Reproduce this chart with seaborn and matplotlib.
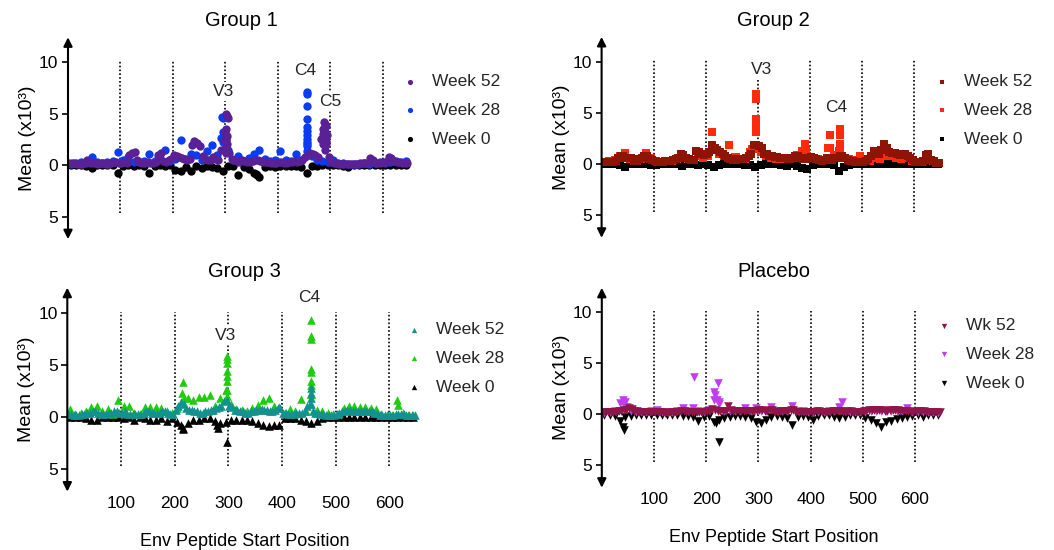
import matplotlib
matplotlib.use("Agg")
import matplotlib.pyplot as plt
import seaborn as sns
import pandas as pd

# ---------------- data ----------------
POS = list(range(5, 650, 10))       # coarse grid of peptide start positions (65)
POS_FINE = list(range(2, 650, 5))   # fine grid of peptide start positions (130)
VLINES = [100, 200, 300, 400, 500, 600]
XTICKS = [100, 200, 300, 400, 500, 600]
YTICKS = [-5, 0, 5, 10]
YTICKLABELS = ["5", "0", "5", "10"]

# Group 1 (circles)
G1_W52 = [0.2,0.2,0.15,0.1,0.1,0.1,0.3,0.5,0.2,0.2,0.15,0.1,0.2,0.15,0.1,0.1,0.2,0.3,0.3,0.2,
          0.2,0.3,0.2,1.0,1.2,1.3,0.5,0.3,0.2,0.2,0.3,0.2,0.2,0.3,1.0,1.2,0.4,0.3,0.5,0.6,
          1.0,0.9,0.8,0.7,0.6,0.5,0.6,1.9,2.2,2.1,1.8,0.9,0.6,0.5,0.5,0.8,0.6,0.5,1.5,2.4,
          2.5,1.2,0.6,0.5,0.4,0.3,0.5,0.4,0.3,0.3,0.4,0.5,0.5,0.4,0.3,0.3,0.3,0.2,0.2,0.2,
          0.3,0.3,0.2,0.2,0.3,0.3,0.4,0.3,0.4,0.5,0.8,1.0,1.2,1.1,1.0,0.8,2.5,3.0,2.0,0.8,
          0.3,0.2,0.2,0.1,0.1,0.1,0.1,0.1,0.1,0.1,0.1,0.15,0.15,0.2,0.2,0.7,0.5,0.2,0.2,0.2,
          0.3,0.3,0.8,0.7,0.4,0.3,0.3,0.2,0.2,0.2]
G1_W52_PX = [301,303,305,302,300,304,301,303,300,302,240,
             488,490,492,486,490,494,488,492,486,490]
G1_W52_PY = [5.0,4.8,4.6,3.5,3.2,2.8,2.4,2.0,1.6,1.2,2.3,
             4.2,4.0,3.8,3.5,3.2,2.9,2.6,2.3,2.0,1.5]
G1_W28 = [0.1,0.2,0.3,0.2,0.8,0.3,0.2,0.3,0.4,1.3,
          0.5,0.8,0.3,0.3,0.4,1.1,0.4,0.6,1.5,0.4,
          0.6,2.4,0.6,1.1,1.0,0.5,1.4,1.9,1.0,3.2,
          1.5,0.5,0.9,0.4,0.7,1.1,1.5,0.6,0.4,0.5,
          1.4,0.5,0.4,1.1,0.5,2.0,0.9,0.5,0.4,0.3,
          0.5,0.2,0.2,0.1,0.1,0.1,0.2,0.1,0.2,0.3,
          0.2,0.3,0.4,0.3,0.4]
G1_W28_PX = [456,456,456,456,456,456,456,456,456,456,456,294,296,292,296]
G1_W28_PY = [7.1,6.9,5.7,4.5,3.7,3.3,2.9,2.5,2.2,1.8,1.4,4.7,4.6,2.6,2.2]
G1_W0 = [0.03,0.03,0.03,0.1,0.3,0.03,0.03,0.03,0.03,0.8,
         0.1,0.03,0.1,0.03,0.1,0.75,0.1,0.03,0.1,0.03,
         0.5,0.6,0.2,0.6,0.1,0.3,0.1,0.2,0.3,0.6,
         0.1,0.1,1.0,0.2,0.4,0.8,1.2,0.2,0.1,0.2,
         0.1,0.1,0.1,0.1,0.2,0.8,0.1,0.1,0.03,0.03,
         0.03,0.03,0.1,0.2,0.03,0.03,0.03,0.03,0.03,0.03,
         0.03,0.03,0.03,0.03,0.03]
G1_W0_PX = [360, 358]
G1_W0_PY = [1.0, 0.9]

# Group 2 (squares)
G2_W52 = [0.2,0.2,0.2,0.2,0.2,0.3,0.6,0.8,0.8,0.6,0.6,0.6,0.3,0.3,0.5,0.6,0.8,0.8,0.5,0.4,
          0.3,0.2,0.2,0.2,0.3,0.3,0.3,0.4,0.5,0.6,1.0,0.9,0.6,0.5,0.4,0.4,1.3,1.2,1.0,0.9,
          1.0,1.2,1.9,1.6,1.4,1.2,1.0,0.8,0.6,0.5,0.4,0.4,0.5,0.5,0.5,0.6,0.8,1.0,1.9,1.9,
          1.8,1.6,1.0,1.0,0.8,0.8,0.7,0.7,0.6,0.6,0.6,0.5,0.5,0.6,0.8,0.8,0.6,0.5,0.5,0.6,
          0.7,0.6,0.5,0.4,0.3,0.4,0.6,0.5,0.4,0.6,0.6,0.8,0.8,0.6,0.4,0.3,0.3,0.2,0.2,0.2,
          0.2,0.3,0.5,0.8,1.3,1.1,1.0,1.4,2.0,1.6,1.2,1.1,1.1,1.0,0.9,1.0,1.0,0.8,0.6,0.4,
          0.2,0.2,0.2,0.3,0.9,1.0,0.4,0.3,0.1,0.1]
G2_W52_PX = []
G2_W52_PY = []
G2_W28 = [0.2,0.3,0.4,0.8,1.1,0.5,0.3,0.5,1.1,0.6,
          0.3,0.2,0.3,0.3,0.5,0.6,0.5,0.4,0.8,0.6,
          0.8,1.5,1.0,0.8,1.9,0.7,0.5,0.5,1.2,1.5,
          1.2,0.8,0.6,0.5,0.5,0.5,0.6,0.9,1.3,0.8,
          0.6,0.5,0.4,1.6,0.9,1.3,0.6,0.5,0.4,0.8,
          0.3,0.3,0.6,0.5,0.8,0.8,0.6,0.5,0.6,0.3,
          0.2,0.2,0.5,0.3,0.1]
G2_W28_PX = [211,258,297,297,296,297,296,297,288,390,393,439,438,457,457,457,457]
G2_W28_PY = [3.1,0.65,6.8,6.3,4.4,4.0,3.1,3.6,1.5,2.0,1.3,2.8,1.6,3.4,2.8,2.0,1.3]
G2_W0 = [0.03,0.03,0.03,0.1,0.3,0.03,0.03,0.03,0.03,0.1,
         0.1,0.03,0.03,0.03,0.03,0.2,0.03,0.03,0.1,0.03,
         0.1,0.3,0.1,0.03,0.03,0.03,0.03,0.1,0.1,0.3,
         0.1,0.03,0.03,0.03,0.1,0.2,0.03,0.2,0.4,0.5,
         0.1,0.03,0.03,0.03,0.1,0.7,0.3,0.1,0.03,0.03,
         0.03,0.03,0.03,0.03,0.03,0.03,0.03,0.03,0.03,0.03,
         0.03,0.03,0.03,0.03,0.03]
G2_W0_PX = []
G2_W0_PY = []

# Group 3 (triangles up)
G3_W52 = [0.3,0.3,0.2,0.2,0.2,0.3,0.3,0.4,0.4,0.5,0.5,0.4,0.3,0.3,0.3,0.4,0.4,0.5,0.5,0.4,
          0.4,0.5,0.3,0.3,0.3,0.3,0.3,0.3,0.4,0.5,0.5,0.4,0.4,0.4,0.4,0.5,0.5,0.4,0.3,0.3,
          0.6,1.0,1.4,1.2,0.8,0.6,0.6,0.5,0.5,0.4,0.4,0.5,0.5,0.6,0.6,0.8,0.9,1.0,1.5,1.6,
          1.0,0.9,0.6,0.6,0.5,0.5,0.4,0.4,0.5,0.5,0.6,0.6,0.7,0.6,0.6,0.5,0.5,0.6,0.8,0.8,
          0.4,0.4,0.3,0.3,0.3,0.4,0.4,0.4,0.5,1.0,1.2,0.5,0.4,0.4,0.3,0.3,0.2,0.2,0.2,0.2,
          0.3,0.4,0.5,0.5,0.6,0.6,0.5,0.5,0.5,0.5,0.5,0.5,0.5,0.5,0.4,0.4,0.2,0.2,0.2,0.2,
          0.2,0.2,0.3,0.3,0.3,0.3,0.2,0.2,0.2,0.2]
G3_W52_PX = [455,455,455,455]
G3_W52_PY = [2.75,2.3,1.8,1.2]
G3_W28 = [0.7,0.3,0.4,0.5,0.9,1.0,0.5,0.7,0.3,1.6,
          1.0,1.0,0.4,0.3,0.9,0.9,0.9,0.8,0.5,0.4,
          0.8,3.3,1.8,1.6,1.9,1.9,2.1,1.0,1.8,2.6,
          1.2,0.7,0.6,0.5,0.8,1.1,1.6,1.8,1.0,0.9,
          0.4,0.7,0.5,1.7,0.5,2.2,0.6,0.5,0.4,0.3,
          0.3,0.8,1.0,1.0,0.9,0.9,0.8,0.7,0.3,0.2,
          0.2,1.6,0.4,0.2,0.2]
G3_W28_PX = [213,218,297,297,297,298,297,297,298,297,
             455,455,455,455,455,455,455,455,617]
G3_W28_PY = [2.3,1.8,5.8,5.5,5.2,4.4,3.9,3.4,2.6,2.0,
             9.3,7.8,7.5,4.6,4.3,3.4,3.0,2.2,1.15]
G3_W0 = [0.03,0.03,0.03,0.1,0.3,0.3,0.03,0.03,0.03,0.03,
         0.1,0.03,0.3,0.03,0.1,0.3,0.3,0.1,0.4,0.1,
         0.5,1.1,0.6,0.3,0.3,0.1,0.1,0.4,0.6,0.5,
         0.3,0.3,0.3,0.3,0.4,0.6,0.8,0.9,0.8,0.8,
         0.1,0.1,0.1,0.3,0.4,0.6,0.4,0.1,0.03,0.03,
         0.03,0.03,0.03,0.03,0.03,0.03,0.03,0.03,0.03,0.03,
         0.03,0.03,0.03,0.03,0.03]
G3_W0_PX = [212,215,280,279,297]
G3_W0_PY = [0.8,1.2,1.1,0.8,2.4]

# Placebo (triangles down)
P_W52 = [0.2,0.2,0.2,0.2,0.2,0.2,0.3,0.3,0.4,0.4,0.6,0.5,0.3,0.3,0.2,0.2,0.2,0.2,0.2,0.2,
         0.2,0.2,0.2,0.2,0.1,0.1,0.2,0.2,0.2,0.2,0.3,0.3,0.2,0.2,0.2,0.2,0.2,0.2,0.2,0.2,
         0.3,0.3,0.5,0.4,0.3,0.3,0.3,0.3,0.85,0.4,0.3,0.3,0.3,0.3,0.3,0.3,0.3,0.3,0.3,0.3,
         0.4,0.4,0.3,0.3,0.4,0.4,0.2,0.2,0.3,0.3,0.3,0.3,0.4,0.4,0.2,0.2,0.2,0.2,0.2,0.2,
         0.2,0.2,0.3,0.3,0.2,0.2,0.2,0.2,0.3,0.3,0.3,0.3,0.2,0.2,0.3,0.3,0.2,0.2,0.2,0.2,
         0.3,0.3,0.4,0.4,0.4,0.4,0.4,0.4,0.3,0.3,0.4,0.4,0.4,0.4,0.3,0.3,0.3,0.3,0.2,0.2,
         0.3,0.3,0.3,0.3,0.2,0.2,0.2,0.2,0.2,0.2]
P_W52_PX = []
P_W52_PY = []
P_W28 = [0.1,0.2,0.3,1.1,0.7,0.3,0.2,0.2,0.2,0.3,
         0.4,0.2,0.2,0.2,0.3,0.65,0.3,0.6,0.3,0.2,
         0.4,1.4,1.0,0.3,0.3,0.3,0.3,0.65,0.3,0.65,
         0.3,0.3,0.75,0.3,0.3,0.3,0.85,0.3,0.3,0.2,
         0.2,0.2,0.2,0.3,0.3,0.75,0.3,0.2,0.2,0.2,
         0.2,0.3,0.3,0.3,0.3,0.3,0.3,0.3,0.6,0.2,
         0.2,0.2,0.2,0.2,0.1]
P_W28_PX = [40,44,48,176,222,214,216,220,225,460]
P_W28_PY = [1.4,1.2,0.7,3.7,3.1,2.2,1.9,1.4,1.2,1.25]
P_W0 = [0.03,0.03,0.2,0.7,0.3,0.2,0.03,0.03,0.03,0.03,
        0.03,0.03,0.03,0.03,0.03,0.2,0.2,0.3,0.7,0.3,
        0.2,0.8,0.6,0.4,0.3,0.2,0.2,0.3,0.4,0.8,
        0.9,0.6,0.3,0.2,0.3,0.4,1.05,0.3,0.2,0.3,
        0.55,0.2,0.1,0.1,0.3,0.4,0.3,0.1,0.1,0.1,
        0.4,0.6,0.9,1.2,0.8,0.7,0.5,0.4,0.3,0.2,
        0.1,0.3,0.1,0.1,0.03]
P_W0_PX = [42,41,224,218]
P_W0_PY = [1.5,1.2,2.75,0.9]

# ---------------- styling ----------------
sns.set_theme(style="white")
plt.rcParams["font.family"] = ["Liberation Sans", "DejaVu Sans"]

W, H = 1054, 550
fig = plt.figure(figsize=(W / 100, H / 100), dpi=100)

def px_axes(left, top, right, bottom):
    return fig.add_axes([left / W, 1 - bottom / H, (right - left) / W, (bottom - top) / H])

panels = [
    dict(title="Group 1", rect=(68, 37.3, 414, 239.2), marker="o", s=36,
         series=[("Week 0", POS, G1_W0, G1_W0_PX, G1_W0_PY, "#000000", True),
                 ("Week 28", POS, G1_W28, G1_W28_PX, G1_W28_PY, "#0A3CF5", False),
                 ("Week 52", POS_FINE, G1_W52, G1_W52_PX, G1_W52_PY, "#5A2096", False)],
         labels=[("V3", 296, 7.1), ("C4", 452, 9.2), ("C5", 500, 6.2)],
         legend=(401, 74), bottom=False),
    dict(title="Group 2", rect=(601.6, 36.9, 945.6, 237.8), marker="s", s=28,
         series=[("Week 0", POS, G2_W0, G2_W0_PX, G2_W0_PY, "#000000", True),
                 ("Week 28", POS, G2_W28, G2_W28_PX, G2_W28_PY, "#FF2A0C", False),
                 ("Week 52", POS_FINE, G2_W52, G2_W52_PX, G2_W52_PY, "#8E1506", False)],
         labels=[("V3", 307, 9.2), ("C4", 451, 5.5)],
         legend=(933, 74), bottom=False),
    dict(title="Group 3", rect=(67.3, 287.7, 421.5, 491.6), marker="^", s=38,
         series=[("Week 0", POS, G3_W0, G3_W0_PX, G3_W0_PY, "#000000", True),
                 ("Week 28", POS, G3_W28, G3_W28_PX, G3_W28_PY, "#1FCC10", False),
                 ("Week 52", POS_FINE, G3_W52, G3_W52_PX, G3_W52_PY, "#12918E", False)],
         labels=[("V3", 294, 7.8), ("C4", 451, 11.5)],
         legend=(405, 322), bottom=True),
    dict(title="Placebo", rect=(601.8, 287.8, 946.3, 487.7), marker="v", s=38,
         series=[("Week 0", POS, P_W0, P_W0_PX, P_W0_PY, "#000000", True),
                 ("Week 28", POS, P_W28, P_W28_PX, P_W28_PY, "#C03CF0", False),
                 ("Wk 52", POS_FINE, P_W52, P_W52_PX, P_W52_PY, "#8E1648", False)],
         labels=[],
         legend=(935, 318), bottom=True),
]

for p in panels:
    ax = px_axes(*p["rect"])
    ax.set_xlim(0, 660)
    ax.set_ylim(-7.2, 12.4)
    for sp in ax.spines.values():
        sp.set_visible(False)
    ax.vlines(VLINES, -4.7, 10.1, colors="black", linestyles=(0, (1, 1.3)),
              linewidth=1.2, zorder=1)
    for name, grid, base, px, py, col, neg in p["series"]:
        xs = grid + px
        ys = base + py
        if neg:
            ys = [-v for v in ys]
        df = pd.DataFrame({"pos": xs, "val": ys})
        sns.scatterplot(data=df, x="pos", y="val", ax=ax, color=col,
                        marker=p["marker"], s=p["s"], linewidth=0,
                        label=name, zorder=2)
    for txt, lx, ly in p["labels"]:
        ax.text(lx, ly, txt, ha="center", va="center", fontsize=12.5,
                zorder=4, bbox=dict(facecolor="white", edgecolor="none", pad=1.5))
    # y axis with arrow heads
    ax.annotate("", xy=(0, 1), xytext=(0, 0), xycoords="axes fraction",
                arrowprops=dict(arrowstyle="<|-|>", color="black", lw=1.5,
                                mutation_scale=13, shrinkA=0, shrinkB=0),
                annotation_clip=False, zorder=5)
    ax.set_yticks(YTICKS)
    ax.set_yticklabels(YTICKLABELS)
    ax.tick_params(axis="y", which="both", left=True, length=4, width=1.2,
                   color="black", pad=3, labelsize=12.5, labelcolor="black")
    ax.set_xticks(XTICKS)
    if p["bottom"]:
        ax.set_xticklabels([str(t) for t in XTICKS])
        ax.tick_params(axis="x", bottom=False, length=0, pad=3, labelsize=12.5,
                       labelcolor="black")
        ax.set_xlabel("Env Peptide Start Position", fontsize=13, labelpad=16,
                      color="black")
    else:
        ax.set_xticklabels([])
        ax.tick_params(axis="x", bottom=False, length=0)
        ax.set_xlabel("")
    ax.set_ylabel("Mean (x10³)", fontsize=14, labelpad=2, color="black")
    ax.set_title(p["title"], fontsize=14.5, pad=8, color="black")
    handles, labs = ax.get_legend_handles_labels()
    lx, ly = p["legend"]
    ax.legend(handles[::-1], labs[::-1], loc="upper left",
              bbox_to_anchor=(lx / W, 1 - ly / H), bbox_transform=fig.transFigure,
              frameon=False, fontsize=12.5, markerscale=0.62, handlelength=1.0,
              handletextpad=0.8, labelspacing=0.78, borderpad=0, borderaxespad=0)

fig.savefig("out.png", dpi=100)
